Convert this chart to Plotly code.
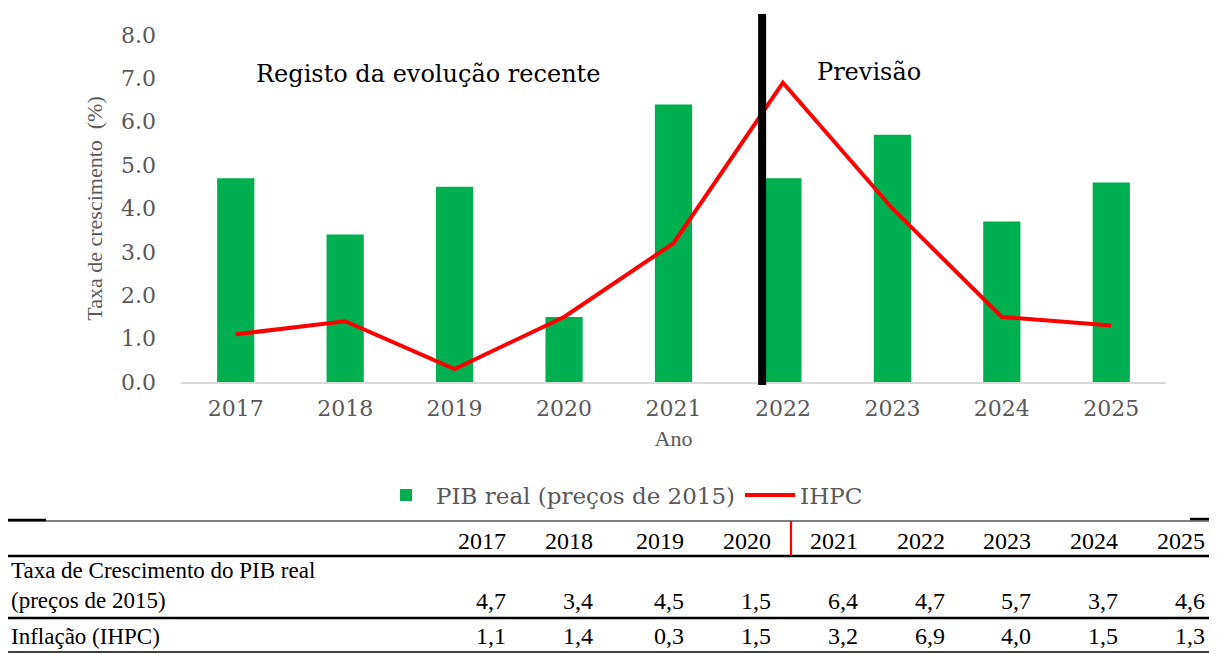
import plotly.graph_objects as go

# ---------------- data ----------------
years = ["2017", "2018", "2019", "2020", "2021", "2022", "2023", "2024", "2025"]
pib_real = [4.7, 3.4, 4.5, 1.5, 6.4, 4.7, 5.7, 3.7, 4.6]
ihpc = [1.1, 1.4, 0.3, 1.5, 3.2, 6.9, 4.0, 1.5, 1.3]
y_ticks = [0, 1, 2, 3, 4, 5, 6, 7, 8]
row_labels = ["Taxa de Crescimento do PIB real", "(preços de 2015)", "Inflação (IHPC)"]

# ---------------- layout helpers ----------------
# the page body adds an 8px offset, so the figure is 8px smaller than the window
OFF = 8
W, H = 1217 - OFF, 654 - OFF
L, T = 181 - OFF, 35 - OFF
R = W - (1166 - OFF)
B = H - (382 - OFF)
PW, PH = W - L - R, H - T - B


def px(x):  # reference-image pixel -> paper x
    return (x - OFF - L) / PW


def py(y):  # reference-image pixel -> paper y
    return (H - B - (y - OFF)) / PH


GRAY = "#595959"
SERIF_W = "DejaVu Serif"
SERIF_N = "Liberation Serif"

fig = go.Figure()
fig.add_trace(go.Bar(
    x=years, y=pib_real, name="PIB real (preços de 2015)",
    marker=dict(color="#00B050", line=dict(width=0)), width=0.34,
))
fig.add_trace(go.Scatter(
    x=years, y=ihpc, name="IHPC", mode="lines",
    line=dict(color="#FF0000", width=4),
))

shapes = []
# forecast divider line
shapes.append(dict(type="line", xref="x", yref="paper", x0=4.81, x1=4.81,
                   y0=py(385), y1=py(14), line=dict(color="black", width=8)))

annotations = [
    dict(text="Registo da evolução recente", x=px(428), y=py(74), xref="paper", yref="paper",
         xanchor="center", yanchor="middle",
         showarrow=False, font=dict(family=SERIF_W, size=24, color="black")),
    dict(text="Previsão", x=px(869), y=py(72), xref="paper", yref="paper",
         xanchor="center", yanchor="middle",
         showarrow=False, font=dict(family=SERIF_W, size=24, color="black")),
]

# ---------------- table ----------------
col_right = [508, 595, 686, 773, 860, 947, 1033, 1120, 1207]
TF = dict(family=SERIF_N, size=23, color="black")
TFY = dict(family=SERIF_N, size=24, color="black")


def hline(y, x0, x1, w):
    shapes.append(dict(type="line", xref="paper", yref="paper", x0=px(x0), x1=px(x1),
                       y0=py(y), y1=py(y), line=dict(color="black", width=w)))


hline(521, 8, 1213, 1.2)
hline(520, 8, 46, 2.4)
hline(519, 1190, 1215, 2.4)
hline(556, 8, 1213, 2.6)
hline(618, 8, 1213, 2.6)
hline(652, 8, 1213, 1.6)
shapes.append(dict(type="line", xref="paper", yref="paper", x0=px(791), x1=px(791),
                   y0=py(521), y1=py(556), line=dict(color="#FF0000", width=2.2)))

for yr, xr in zip(years, col_right):
    annotations.append(dict(text=yr, x=px(xr), y=py(541), xref="paper", yref="paper",
                            xanchor="right", yanchor="middle", showarrow=False, font=TFY))
for v, xr in zip(pib_real, col_right):
    annotations.append(dict(text=f"{v:.1f}".replace(".", ","), x=px(xr), y=py(601),
                            xref="paper", yref="paper", xanchor="right", yanchor="middle",
                            showarrow=False, font=TFY))
for v, xr in zip(ihpc, col_right):
    annotations.append(dict(text=f"{v:.1f}".replace(".", ","), x=px(xr), y=py(636),
                            xref="paper", yref="paper", xanchor="right", yanchor="middle",
                            showarrow=False, font=TFY))
for lab, yy in zip(row_labels, [570, 600, 636]):
    annotations.append(dict(text=lab, x=px(9), y=py(yy), xref="paper", yref="paper",
                            xanchor="left", yanchor="middle", showarrow=False, font=TF))

fig.update_layout(
    width=W, height=H,
    margin=dict(l=L, r=R, t=T, b=B, autoexpand=False),
    paper_bgcolor="white", plot_bgcolor="white",
    showlegend=True,
    legend=dict(orientation="h", x=px(622), xanchor="center", y=py(495), yanchor="middle",
                font=dict(family=SERIF_W, size=23, color=GRAY), itemwidth=50,
                bgcolor="rgba(0,0,0,0)"),
    xaxis=dict(
        type="category", range=[-0.5, 8.5], showgrid=False,
        showline=True, linecolor="#D9D9D9", linewidth=1.5,
        ticks="", tickfont=dict(family=SERIF_W, size=22, color=GRAY),
        ticklabelstandoff=6,
        title=dict(text="Ano", font=dict(family=SERIF_N, size=22, color=GRAY), standoff=10),
    ),
    yaxis=dict(
        range=[0, 8], tickvals=y_ticks, ticktext=[f"{t:.1f}" for t in y_ticks],
        showgrid=False, zeroline=False, showline=False, ticks="",
        tickfont=dict(family=SERIF_W, size=22, color=GRAY),
        ticklabelstandoff=24,
        title=dict(text="Taxa de crescimento  (%)", font=dict(family=SERIF_N, size=22, color=GRAY),
                   standoff=12),
    ),
    shapes=shapes,
    annotations=annotations,
)

fig.write_html("out.html")
